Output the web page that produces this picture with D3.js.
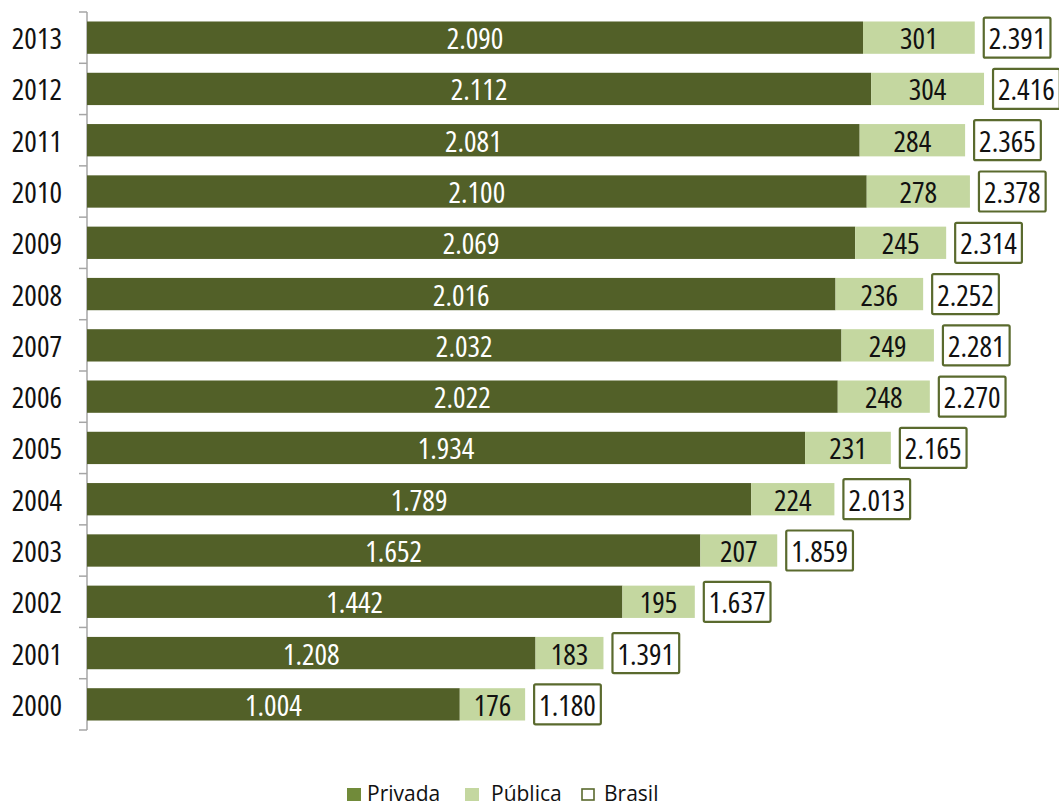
<!DOCTYPE html>
<html>
<head>
<meta charset="utf-8">
<script src="https://cdn.jsdelivr.net/npm/d3@7/dist/d3.min.js"></script>
<style>
  body { margin: 0; background: #fff; }
  svg text.num { font-family: "Open Sans", sans-serif; font-stretch: condensed; font-weight: 385; }
  svg text.leg { font-family: "Open Sans", "Noto Sans", sans-serif; }
</style>
</head>
<body>
<svg id="chart" width="1059" height="806"></svg>
<script>
// Matrículas by year: private and public network, plus the national total
const years    = ["2013","2012","2011","2010","2009","2008","2007","2006","2005","2004","2003","2002","2001","2000"];
const privada  = [2090, 2112, 2081, 2100, 2069, 2016, 2032, 2022, 1934, 1789, 1652, 1442, 1208, 1004];
const publica  = [301, 304, 284, 278, 245, 236, 249, 248, 231, 224, 207, 195, 183, 176];
const brasil   = [2391, 2416, 2365, 2378, 2314, 2252, 2281, 2270, 2165, 2013, 1859, 1637, 1391, 1180];
const legendLabels = ["Privada", "Pública", "Brasil"];

const colors = { privada: "#526028", publica: "#c4d7a0", box: "#5a6a2e", legendPriv: "#718b3a" };

const ptBR = d3.formatLocale({ decimal: ",", thousands: ".", grouping: [3], currency: ["R$", ""] });
const fmt = ptBR.format(",d");

const svg = d3.select("#chart");
const x0 = 87;
const x = d3.scaleLinear().domain([0, 2090]).range([x0, 863]);
const y = d3.scaleBand().domain(years).range([12, 730]).paddingInner(0.37).paddingOuter(0.185);

const rows = years.map((yr, i) => ({ yr, priv: privada[i], pub: publica[i], tot: brasil[i] }));
const NUM = 29.5;

// axis line with tick marks at band boundaries
const step = y.step();
const boundaries = d3.range(years.length + 1).map(i => 12 + i * step);
svg.append("line").attr("x1", x0).attr("x2", x0).attr("y1", 12).attr("y2", 730)
  .attr("stroke", "#a6a6a6").attr("stroke-width", 1.5);
svg.selectAll(".tick").data(boundaries).join("line")
  .attr("x1", x0 - 8).attr("x2", x0).attr("y1", d => d).attr("y2", d => d)
  .attr("stroke", "#a6a6a6").attr("stroke-width", 1.5);

// year labels
svg.selectAll(".ylab").data(rows).join("text").attr("class", "num")
  .attr("x", 62).attr("y", d => y(d.yr) + y.bandwidth() / 2)
  .attr("text-anchor", "end").attr("dominant-baseline", "central")
  .attr("font-size", NUM).attr("fill", "#111").text(d => d.yr);

const g = svg.selectAll(".row").data(rows).join("g");

g.append("rect").attr("x", x(0)).attr("y", d => y(d.yr))
  .attr("width", d => x(d.priv) - x(0)).attr("height", y.bandwidth()).attr("fill", colors.privada);
g.append("rect").attr("x", d => x(d.priv)).attr("y", d => y(d.yr))
  .attr("width", d => x(d.priv + d.pub) - x(d.priv)).attr("height", y.bandwidth()).attr("fill", colors.publica);

g.append("text").attr("class", "num").attr("x", d => (x(0) + x(d.priv)) / 2).attr("y", d => y(d.yr) + y.bandwidth() / 2)
  .attr("text-anchor", "middle").attr("dominant-baseline", "central")
  .attr("font-size", NUM).attr("fill", "#fff").text(d => fmt(d.priv));
g.append("text").attr("class", "num").attr("x", d => (x(d.priv) + x(d.priv + d.pub)) / 2).attr("y", d => y(d.yr) + y.bandwidth() / 2)
  .attr("text-anchor", "middle").attr("dominant-baseline", "central")
  .attr("font-size", NUM).attr("fill", "#111").text(d => fmt(d.pub));

// total boxes
g.each(function (d) {
  const row = d3.select(this);
  const bx = x(d.tot) + 9;
  const cy = y(d.yr) + y.bandwidth() / 2;
  const t = row.append("text").attr("class", "num").attr("x", bx + 5).attr("y", cy)
    .attr("dominant-baseline", "central").attr("font-size", NUM).attr("fill", "#111").text(fmt(d.tot));
  const w = t.node().getComputedTextLength();
  row.insert("rect", "text:last-child").attr("x", bx).attr("y", cy - 20)
    .attr("width", w + 10).attr("height", 40).attr("rx", 1.5)
    .attr("fill", "#fff").attr("stroke", colors.box).attr("stroke-width", 2.2);
  t.raise();
});

// legend
const lg = svg.append("g");
const items = [
  { label: legendLabels[0], sx: 347, tx: 367, fill: colors.legendPriv, stroke: "none" },
  { label: legendLabels[1], sx: 465, tx: 491, fill: colors.publica, stroke: "none" },
  { label: legendLabels[2], sx: 581, tx: 604, fill: "#fff", stroke: colors.box }
];
items.forEach(it => {
  const filled = it.stroke === "none";
  lg.append("rect").attr("x", filled ? it.sx : it.sx + 1).attr("y", filled ? 788 : 789)
    .attr("width", filled ? 14 : 12).attr("height", filled ? 13 : 11)
    .attr("fill", it.fill).attr("stroke", it.stroke).attr("stroke-width", 1.6);
  lg.append("text").attr("class", "leg").attr("x", it.tx).attr("y", 801)
    .attr("font-size", 21).attr("fill", "#111").text(it.label);
});
</script>
</body>
</html>
